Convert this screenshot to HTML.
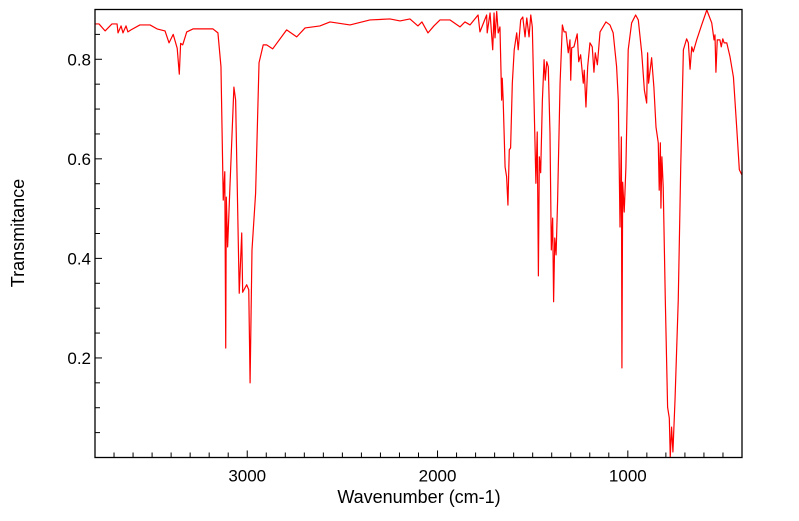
<!DOCTYPE html>
<html><head><meta charset="utf-8"><style>
body{margin:0;background:#fff;}
svg text{font-family:"Liberation Sans","DejaVu Sans",sans-serif;fill:#000;}
</style></head><body>
<svg id="chart" width="799" height="516" viewBox="0 0 799 516" xmlns="http://www.w3.org/2000/svg">
<rect x="0" y="0" width="799" height="516" fill="#fff"/>
<g id="ticks"></g>
<g id="labels"></g>
<clipPath id="clip"><rect x="95" y="9.5" width="647" height="448"/></clipPath>
<polyline id="spec" fill="none" stroke="#ff0000" stroke-width="1.2" stroke-linejoin="round" clip-path="url(#clip)"/>
<rect x="95" y="9.5" width="647" height="448" fill="none" stroke="#000" stroke-width="1.3"/>
<text x="419" y="503" font-size="18" text-anchor="middle">Wavenumber (cm-1)</text>
<text x="0" y="0" font-size="18" text-anchor="middle" transform="translate(24,233) rotate(-90)">Transmitance</text>
</svg>
<script>
const wavenumbers=[3800,3779,3747,3711,3684,3679,3663,3653,3637,3627,3611,3564,3511,3474,3432,3411,3389,3368,3357,3350,3339,3318,3285,3180,3154,3138,3126,3118,3113,3110,3103,3091,3070,3061,3042,3029,3024,3003,2992,2985,2975,2956,2938,2916,2898,2866,2793,2740,2696,2618,2565,2460,2355,2250,2197,2145,2103,2082,2050,2019,1987,1934,1882,1856,1829,1787,1777,1742,1739,1724,1710,1703,1698,1689,1681,1672,1663,1660,1655,1645,1637,1630,1623,1616,1607,1597,1584,1576,1563,1552,1540,1531,1519,1510,1502,1493,1483,1476,1470,1465,1458,1449,1440,1434,1426,1418,1409,1402,1395,1390,1384,1377,1369,1356,1344,1335,1325,1313,1304,1300,1295,1283,1266,1258,1248,1234,1229,1220,1211,1199,1187,1178,1171,1160,1146,1115,1094,1077,1059,1050,1041,1034,1031,1027,1019,1010,998,980,959,945,927,913,901,896,891,875,863,852,840,835,829,826,821,814,803,791,782,777,770,763,752,735,722,708,691,682,673,664,656,638,612,585,559,547,542,537,530,516,509,501,494,480,463,445,428,414,401];
const transmittance=[0.871,0.871,0.857,0.871,0.871,0.853,0.867,0.853,0.867,0.855,0.859,0.869,0.869,0.861,0.857,0.833,0.850,0.822,0.770,0.832,0.829,0.855,0.861,0.861,0.853,0.785,0.517,0.574,0.220,0.523,0.423,0.543,0.744,0.718,0.330,0.451,0.332,0.347,0.337,0.150,0.417,0.531,0.793,0.829,0.829,0.821,0.859,0.845,0.863,0.867,0.875,0.869,0.879,0.881,0.877,0.881,0.867,0.875,0.853,0.867,0.879,0.879,0.865,0.875,0.869,0.889,0.855,0.889,0.853,0.893,0.819,0.893,0.843,0.896,0.853,0.865,0.718,0.762,0.718,0.584,0.564,0.507,0.618,0.622,0.752,0.819,0.853,0.819,0.879,0.885,0.845,0.883,0.845,0.889,0.865,0.718,0.551,0.654,0.365,0.604,0.572,0.718,0.799,0.758,0.795,0.785,0.652,0.417,0.481,0.313,0.441,0.407,0.517,0.752,0.869,0.855,0.855,0.813,0.839,0.758,0.823,0.825,0.851,0.795,0.809,0.752,0.778,0.704,0.785,0.833,0.825,0.774,0.813,0.789,0.855,0.875,0.869,0.853,0.785,0.718,0.463,0.644,0.180,0.553,0.493,0.584,0.819,0.873,0.889,0.879,0.813,0.738,0.712,0.813,0.752,0.803,0.744,0.664,0.632,0.537,0.632,0.501,0.604,0.543,0.316,0.101,0.079,0.001,0.061,0.011,0.116,0.316,0.584,0.819,0.841,0.833,0.780,0.825,0.815,0.839,0.869,0.899,0.873,0.839,0.849,0.774,0.839,0.839,0.825,0.841,0.833,0.833,0.805,0.764,0.664,0.578,0.568];
const xTickLabels=[3000,2000,1000];
const yTickLabels=[0.2,0.4,0.6,0.8];
const X0=95,X1=742,Y0=457.5,Y1=9.5;
const xMin=3800,xMax=400,yMin=0,yMax=0.9;
function sx(w){return X0+(xMin-w)/(xMin-xMax)*(X1-X0);}
function sy(t){return Y0-(t-yMin)/(yMax-yMin)*(Y0-Y1);}
const NS='http://www.w3.org/2000/svg';
const pts=wavenumbers.map((w,i)=>sx(w).toFixed(2)+','+sy(transmittance[i]).toFixed(2)).join(' ');
document.getElementById('spec').setAttribute('points',pts);
const tg=document.getElementById('ticks'),lg=document.getElementById('labels');
for(let w=3700;w>=400;w-=100){
  const major=w%1000===0;const x=sx(w);
  const l=document.createElementNS(NS,'line');
  l.setAttribute('x1',x);l.setAttribute('x2',x);l.setAttribute('y1',Y0);l.setAttribute('y2',Y0-(major?7:5));
  l.setAttribute('stroke','#000');l.setAttribute('stroke-width','1');
  
  
  tg.appendChild(l);
}
for(let k=1;k<18;k++){
  const t=k*0.05;const y=sy(t);const major=k%4===0;
  const l=document.createElementNS(NS,'line');
  l.setAttribute('x1',X0);l.setAttribute('x2',X0+(major?7:5));l.setAttribute('y1',y);l.setAttribute('y2',y);
  l.setAttribute('stroke','#000');l.setAttribute('stroke-width','1');
  
  
  tg.appendChild(l);
}
xTickLabels.forEach(v=>{
  const t=document.createElementNS(NS,'text');
  t.setAttribute('x',sx(v));t.setAttribute('y',Y0+24);t.setAttribute('font-size','17');t.setAttribute('text-anchor','middle');
  t.textContent=v;
  
  
  lg.appendChild(t);
});
yTickLabels.forEach(v=>{
  const t=document.createElementNS(NS,'text');
  t.setAttribute('x',X0-4);t.setAttribute('y',sy(v)+6);t.setAttribute('font-size','17');t.setAttribute('text-anchor','end');
  t.textContent=v.toFixed(1);
  
  
  lg.appendChild(t);
});
</script>
</body></html>
